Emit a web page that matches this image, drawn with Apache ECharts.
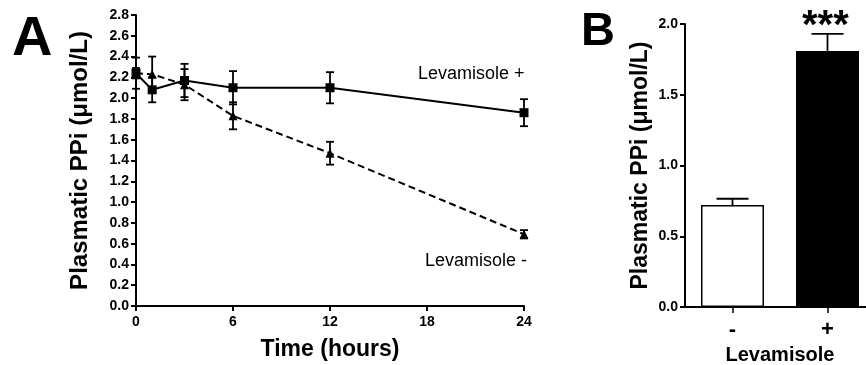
<!DOCTYPE html>
<html>
<head>
    <meta charset="utf-8">
    <title>Plasmatic PPi</title>
    <style>
        html, body { margin: 0; padding: 0; background: #fff; }
        #container { width: 866px; height: 365px; }
    </style>
</head>
<body>
<div id="container"></div>
<script src="https://cdn.jsdelivr.net/npm/echarts@6/dist/echarts.min.js"></script>
<script type="text/javascript">

    // panel A: time course
    var hours = [0, 1, 3, 6, 12, 24];
    var plusMean = [2.24, 2.08, 2.17, 2.10, 2.10, 1.86];
    var plusSem = [0.15, 0.12, 0.16, 0.16, 0.15, 0.13];
    var minusMean = [2.24, 2.23, 2.13, 1.83, 1.47, 0.69];
    var minusSem = [0.05, 0.17, 0.15, 0.13, 0.11, 0.04];
    var yTicksA = [0, 2.8, 0.2];
    var xTicksA = [0, 24, 6];

    // panel B: bars
    var groups = ['-', '+'];
    var barMean = [0.72, 1.81];
    var barSem = [0.045, 0.12];

    var font = 'Liberation Sans';
    var dom = document.getElementById('container');
    var myChart = echarts.init(dom);

    function pairs(xs, ys, es) {
        var out = [];
        for (var i = 0; i < xs.length; i++) {
            out.push([xs[i], ys[i], es[i]]);
        }
        return out;
    }

    // error bars drawn through the axis scale
    function errorBar(upOnly, w) {
        return function (params, api) {
            var x = api.value(0);
            var m = api.value(1);
            var e = api.value(2);
            var top = api.coord([x, m + e]);
            var bot = api.coord([x, upOnly ? m : m - e]);
            var style = { stroke: '#000', lineWidth: 1.8 };
            var kids = [
                { type: 'line', shape: { x1: top[0], y1: top[1], x2: bot[0], y2: bot[1] }, style: style },
                { type: 'line', shape: { x1: top[0] - w, y1: top[1], x2: top[0] + w, y2: top[1] }, style: style }
            ];
            if (!upOnly) {
                kids.push({ type: 'line', shape: { x1: bot[0] - w, y1: bot[1], x2: bot[0] + w, y2: bot[1] }, style: style });
            }
            return { type: 'group', children: kids };
        };
    }

    var tickLabel = { color: '#000', fontFamily: font, fontWeight: 'bold', fontSize: 14 };
    var axisLine = { show: true, lineStyle: { color: '#000', width: 2 } };
    var axisTick = { show: true, inside: false, length: 5, lineStyle: { color: '#000', width: 2 } };

    var option = {
        animation: false,
        textStyle: { fontFamily: font },
        grid: [
            { left: 136, top: 15, width: 388, height: 291, outerBoundsMode: 'none' },
            { left: 685, top: 24, width: 190, height: 283, outerBoundsMode: 'none' }
        ],
        xAxis: [
            {
                gridIndex: 0, type: 'value',
                min: xTicksA[0], max: xTicksA[1], interval: xTicksA[2],
                axisLine: axisLine, axisTick: axisTick,
                axisLabel: Object.assign({ margin: 9 }, tickLabel),
                splitLine: { show: false },
                name: 'Time (hours)', nameLocation: 'middle', nameGap: 32,
                nameTextStyle: { color: '#000', fontFamily: font, fontWeight: 'bold', fontSize: 23 }
            },
            {
                gridIndex: 1, type: 'category', data: groups,
                axisLine: axisLine,
                axisTick: { show: true, alignWithLabel: true, length: 6, lineStyle: { color: '#000', width: 1.5 } },
                axisLabel: { color: '#000', fontFamily: font, fontWeight: 'bold', fontSize: 22, margin: 12 },
                name: 'Levamisole', nameLocation: 'middle', nameGap: 37,
                nameTextStyle: { color: '#000', fontFamily: font, fontWeight: 'bold', fontSize: 20 }
            }
        ],
        yAxis: [
            {
                gridIndex: 0, type: 'value',
                min: yTicksA[0], max: yTicksA[1], interval: yTicksA[2],
                axisLine: axisLine, axisTick: axisTick,
                axisLabel: Object.assign({ margin: 7, formatter: function (v) { return v.toFixed(1); } }, tickLabel),
                splitLine: { show: false },
                name: 'Plasmatic PPi (\u03bcmol/L)', nameLocation: 'middle', nameGap: 44,
                nameTextStyle: { color: '#000', fontFamily: font, fontWeight: 'bold', fontSize: 24 }
            },
            {
                gridIndex: 1, type: 'value',
                min: 0, max: 2, interval: 0.5,
                axisLine: axisLine, axisTick: axisTick,
                axisLabel: Object.assign({ margin: 7, formatter: function (v) { return v.toFixed(1); } }, tickLabel),
                splitLine: { show: false },
                name: 'Plasmatic PPi (\u03bcmol/L)', nameLocation: 'middle', nameGap: 33,
                nameTextStyle: { color: '#000', fontFamily: font, fontWeight: 'bold', fontSize: 23 }
            }
        ],
        graphic: [
            { type: 'text', left: 12, top: 12, style: { text: 'A', font: 'bold 56px "Liberation Sans"', fill: '#000' } },
            { type: 'text', left: 581, top: 9, style: { text: 'B', font: 'bold 47px "Liberation Sans"', fill: '#000' } },
            { type: 'text', left: 418, top: 65, style: { text: 'Levamisole +', font: '18px "Liberation Sans"', fill: '#000' } },
            { type: 'text', left: 425, top: 252, style: { text: 'Levamisole -', font: '18px "Liberation Sans"', fill: '#000' } },
            { type: 'text', left: 802, top: 7, style: { text: '***', font: 'bold 40px "Liberation Sans"', fill: '#000' } }
        ],
        series: [
            {
                name: 'Levamisole +', type: 'line', xAxisIndex: 0, yAxisIndex: 0,
                data: pairs(hours, plusMean, plusSem),
                symbol: 'rect', symbolSize: 9,
                itemStyle: { color: '#000' },
                lineStyle: { color: '#000', width: 2 },
                z: 3
            },
            {
                name: 'Levamisole -', type: 'line', xAxisIndex: 0, yAxisIndex: 0,
                data: pairs(hours, minusMean, minusSem),
                symbol: 'triangle', symbolSize: 9,
                itemStyle: { color: '#000' },
                lineStyle: { color: '#000', width: 2, type: [7, 4] },
                z: 3
            },
            {
                type: 'custom', xAxisIndex: 0, yAxisIndex: 0,
                data: pairs(hours, plusMean, plusSem),
                renderItem: errorBar(false, 4), z: 4
            },
            {
                type: 'custom', xAxisIndex: 0, yAxisIndex: 0,
                data: pairs(hours, minusMean, minusSem),
                renderItem: errorBar(false, 4), z: 4
            },
            {
                type: 'bar', xAxisIndex: 1, yAxisIndex: 1,
                barWidth: 63,
                data: [
                    { value: barMean[0], itemStyle: { color: '#fff', borderColor: '#000', borderWidth: 1.5 } },
                    { value: barMean[1], itemStyle: { color: '#000', borderColor: '#000', borderWidth: 1.5 } }
                ]
            },
            {
                type: 'custom', xAxisIndex: 1, yAxisIndex: 1,
                data: pairs([0, 1], barMean, barSem),
                renderItem: errorBar(true, 16), z: 4
            }
        ]
    };
    myChart.setOption(option);

</script>
</body>
</html>
